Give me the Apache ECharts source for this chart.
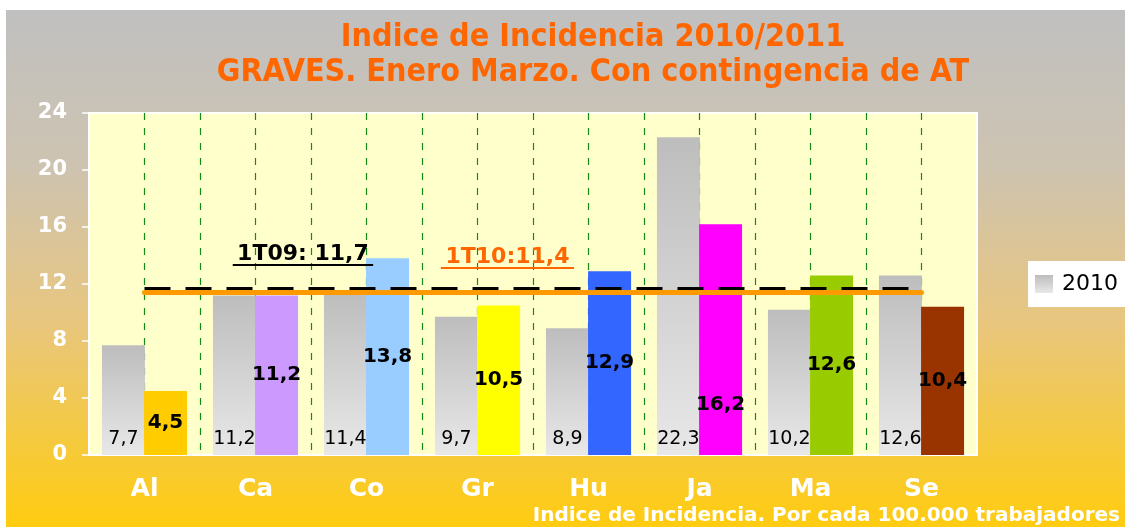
<!DOCTYPE html>
<html>
<head>
<meta charset="utf-8">
<script src="https://cdn.jsdelivr.net/npm/echarts@6/dist/echarts.min.js"></script>
<style>
  html, body { margin: 0; padding: 0; background: #fff; }
  #main { position: absolute; left: 6px; top: 10px; width: 1119px; height: 517px; }
</style>
</head>
<body>
<div id="main"></div>
<script>
// datos
const provincias = ['Al', 'Ca', 'Co', 'Gr', 'Hu', 'Ja', 'Ma', 'Se']
const valores2010 = [7.7, 11.2, 11.4, 9.7, 8.9, 22.3, 10.2, 12.6]
const valores2011 = [4.5, 11.2, 13.8, 10.5, 12.9, 16.2, 12.6, 10.4]
const media1T09 = 11.7
const media1T10 = 11.4
const ejeY = [0, 24, 4] // min, max, intervalo
// colores de las barras de 2011
const colores2011 = ['#FFCC00', '#CC99FF', '#99CCFF', '#FFFF00', '#3366FF', '#FF00FF', '#99CC00', '#993300']

const fuente = 'DejaVu Sans'
const coma = v => v.toFixed(1).replace('.', ',')
// centro de una provincia en el eje auxiliar (2 unidades por provincia)
const centro = nombre => provincias.indexOf(nombre) * 2 + 1

const chart = echarts.init(document.getElementById('main'))

const grisBarra = new echarts.graphic.LinearGradient(0, 0, 0, 1, [
  { offset: 0, color: '#BDBDBD' },
  { offset: 1, color: '#E8E8E8' }
])

const option = {
  backgroundColor: new echarts.graphic.LinearGradient(0, 0, 0, 1, [
    { offset: 0, color: '#C0C0C0' },
    { offset: 0.3, color: '#CDC3B1' },
    { offset: 0.6, color: '#E8C67F' },
    { offset: 1, color: '#FFCC10' }
  ]),
  title: {
    text: 'Indice de Incidencia 2010/2011\nGRAVES. Enero Marzo. Con contingencia de AT',
    left: 582,
    textAlign: 'center',
    top: 5,
    textStyle: {
      color: '#FF6600',
      fontFamily: 'DejaVu Sans Condensed, ' + fuente,
      fontWeight: 'bold',
      fontSize: 32,
      lineHeight: 35
    }
  },
  legend: {
    data: [{ name: '2010', icon: 'rect' }],
    left: 1022,
    top: 251,
    backgroundColor: '#fff',
    padding: [12, 20, 12, 7],
    itemWidth: 18,
    itemHeight: 18,
    textStyle: { fontFamily: fuente, fontSize: 22, color: '#000', padding: [0, 0, 0, 4] }
  },
  graphic: [{
    type: 'text',
    right: 5,
    top: 496,
    style: {
      text: 'Indice de Incidencia. Por cada 100.000 trabajadores',
      fill: '#fff',
      font: 'bold 20px ' + fuente
    }
  }],
  grid: {
    left: 83,
    top: 103,
    right: 148,
    bottom: 72,
    show: true,
    backgroundColor: '#FFFFCC',
    borderColor: '#fff',
    borderWidth: 2
  },
  xAxis: [
    {
      type: 'category',
      data: provincias,
      axisLine: { lineStyle: { color: '#fff', width: 2 } },
      axisTick: { lineStyle: { color: '#fff', width: 1.5 }, length: 8 },
      axisLabel: { color: '#fff', fontFamily: fuente, fontWeight: 'bold', fontSize: 25, margin: 22 },
      splitLine: { show: false }
    },
    {
      // eje auxiliar: lineas verticales discontinuas y anotaciones
      type: 'value',
      min: 0,
      max: 16,
      interval: 1,
      position: 'bottom',
      axisLine: { show: false },
      axisTick: { show: false },
      axisLabel: { show: false },
      splitLine: {
        show: true,
        showMinLine: false,
        showMaxLine: false,
        lineStyle: { color: '#168A16', type: [7, 8], width: 1.2 }
      }
    }
  ],
  yAxis: {
    type: 'value',
    min: ejeY[0],
    max: ejeY[1],
    interval: ejeY[2],
    axisLine: { show: true, lineStyle: { color: '#fff', width: 2 } },
    axisTick: { show: true, lineStyle: { color: '#fff', width: 1.5 }, length: 7 },
    axisLabel: { color: '#fff', fontFamily: fuente, fontWeight: 'bold', fontSize: 21, margin: 22 },
    splitLine: { show: false }
  },
  series: [
    {
      name: '2010',
      type: 'bar',
      xAxisIndex: 0,
      barWidth: 43,
      barGap: '-2%',
      data: valores2010,
      itemStyle: { color: grisBarra },
      label: {
        show: true,
        position: 'insideBottom',
        distance: 6,
        color: '#000',
        fontFamily: fuente,
        fontSize: 19,
        formatter: p => coma(p.value)
      },
      z: 2
    },
    {
      name: '2011',
      type: 'bar',
      xAxisIndex: 0,
      barWidth: 43,
      data: valores2011.map((v, i) => {
        const item = { value: v, itemStyle: { color: colores2011[i] } }
        // la etiqueta de Ja esta desplazada hacia abajo en el original
        if (provincias[i] === 'Ja') item.label = { position: 'insideBottom', distance: 40 }
        return item
      }),
      label: {
        show: true,
        position: 'inside',
        color: '#000',
        fontFamily: fuente,
        fontWeight: 'bold',
        fontSize: 20,
        formatter: p => coma(p.value)
      },
      z: 3
    },
    {
      // medias trimestrales y textos subrayados
      name: 'medias',
      type: 'line',
      xAxisIndex: 1,
      data: [],
      z: 4,
      markLine: {
        silent: true,
        symbol: 'none',
        label: { show: false },
        data: [
          [
            { coord: [centro('Al'), media1T09], lineStyle: { color: '#000', width: 4, type: [26, 15] } },
            { coord: [centro('Se'), media1T09] }
          ],
          [
            { coord: [centro('Al'), media1T10], lineStyle: { color: '#FF9900', width: 5, type: 'solid', cap: 'round' } },
            { coord: [centro('Se'), media1T10] }
          ],
          [
            {
              coord: [2.59, 13.33],
              lineStyle: { color: '#000', width: 2, type: 'solid' },
              label: {
                show: true,
                position: 'insideMiddleTop',
                distance: 0,
                formatter: '1T09: ' + coma(media1T09),
                color: '#000',
                fontFamily: fuente,
                fontWeight: 'bold',
                fontSize: 22
              }
            },
            { coord: [5.12, 13.33] }
          ],
          [
            {
              coord: [6.34, 13.12],
              lineStyle: { color: '#FF6600', width: 2, type: 'solid' },
              label: {
                show: true,
                position: 'insideMiddleTop',
                distance: 0,
                formatter: '1T10:' + coma(media1T10),
                color: '#FF6600',
                fontFamily: fuente,
                fontWeight: 'bold',
                fontSize: 22
              }
            },
            { coord: [8.74, 13.12] }
          ]
        ]
      }
    }
  ]
}

chart.setOption(option)
</script>
</body>
</html>
